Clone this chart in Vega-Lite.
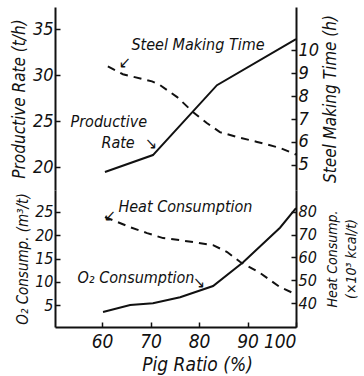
{
  "$schema": "https://vega.github.io/schema/vega-lite/v6.json",
  "width": 241,
  "height": 320,
  "autosize": {"type": "none"},
  "padding": {"left": 55, "top": 7, "right": 68, "bottom": 49},
  "background": "white",
  "config": {
    "view": {"stroke": null},
    "font": "DejaVu Sans Condensed, Liberation Sans",
    "axis": {
      "grid": false,
      "domainColor": "#111",
      "domainWidth": 2,
      "tickColor": "#111",
      "tickWidth": 1.5,
      "tickSize": -5,
      "labelPadding": 7,
      "titlePadding": 4,
      "labelFont": "DejaVu Sans Condensed, Liberation Sans",
      "titleFont": "DejaVu Sans Condensed, Liberation Sans",
      "labelFontStyle": "italic",
      "titleFontStyle": "italic",
      "titleFontWeight": "normal",
      "labelColor": "#111",
      "titleColor": "#111",
      "labelFontSize": 18,
      "titleFontSize": 17
    },
    "text": {"font": "DejaVu Sans Condensed, Liberation Sans", "fontStyle": "italic", "fontSize": 16, "color": "#111"}
  },
  "datasets": {
    "lines": [
      {"series": "prod", "pig": 60.6, "v": 19.46},
      {"series": "prod", "pig": 70.5, "v": 21.3},
      {"series": "prod", "pig": 83.7, "v": 28.9},
      {"series": "prod", "pig": 100, "v": 33.9},
      {"series": "steel", "pig": 61.2, "v": 9.3},
      {"series": "steel", "pig": 64.3, "v": 8.96},
      {"series": "steel", "pig": 70.3, "v": 8.65},
      {"series": "steel", "pig": 72.0, "v": 8.48},
      {"series": "steel", "pig": 75.5, "v": 7.96},
      {"series": "steel", "pig": 78.8, "v": 7.3},
      {"series": "steel", "pig": 81.6, "v": 6.83},
      {"series": "steel", "pig": 84.3, "v": 6.43},
      {"series": "steel", "pig": 87.8, "v": 6.22},
      {"series": "steel", "pig": 92.0, "v": 6.0},
      {"series": "steel", "pig": 96.7, "v": 5.74},
      {"series": "steel", "pig": 100, "v": 5.45},
      {"series": "o2", "pig": 60.2, "v": 3.5},
      {"series": "o2", "pig": 65.8, "v": 5.0},
      {"series": "o2", "pig": 70.5, "v": 5.4},
      {"series": "o2", "pig": 76.1, "v": 6.7},
      {"series": "o2", "pig": 82.9, "v": 9.1},
      {"series": "o2", "pig": 89.1, "v": 14.2},
      {"series": "o2", "pig": 96.7, "v": 21.6},
      {"series": "o2", "pig": 100, "v": 25.8},
      {"series": "heat", "pig": 60.6, "v": 77.7},
      {"series": "heat", "pig": 62.3, "v": 76.3},
      {"series": "heat", "pig": 65.8, "v": 73.3},
      {"series": "heat", "pig": 69.3, "v": 70.7},
      {"series": "heat", "pig": 72.6, "v": 68.5},
      {"series": "heat", "pig": 76.1, "v": 67.6},
      {"series": "heat", "pig": 82.9, "v": 65.4},
      {"series": "heat", "pig": 85.8, "v": 62.4},
      {"series": "heat", "pig": 88.5, "v": 58.0},
      {"series": "heat", "pig": 92.6, "v": 53.2},
      {"series": "heat", "pig": 96.7, "v": 47.0},
      {"series": "heat", "pig": 99.4, "v": 44.4}
    ],
    "notes": [
      {"panel": "top", "label": "Steel Making Time", "pig": 79.8, "v": 33.26},
      {"panel": "top", "label": "↙", "pig": 64.7, "v": 31.3},
      {"panel": "top", "label": "Productive", "pig": 61.4, "v": 24.9},
      {"panel": "top", "label": "Rate", "pig": 63.3, "v": 22.6},
      {"panel": "top", "label": "↘", "pig": 70.1, "v": 22.5},
      {"panel": "bottom", "label": "Heat Consumption", "pig": 77.2, "v": 26.1},
      {"panel": "bottom", "label": "↙", "pig": 61.6, "v": 24.2},
      {"panel": "bottom", "label": "O₂ Consumption", "pig": 67.0, "v": 10.8},
      {"panel": "bottom", "label": "↘", "pig": 80.0, "v": 9.7}
    ]
  },
  "encoding": {
    "x": {
      "field": "pig",
      "type": "quantitative",
      "scale": {"domain": [50.3, 100], "nice": false, "zero": false},
      "axis": {
        "orient": "bottom",
        "values": [60, 70, 80, 90, 100],
        "labelFontSize": 19,
        "labelPadding": 10,
        "title": "Pig  Ratio  (%)",
        "titleFontSize": 19,
        "titleX": 142,
        "titleY": 43,
        "titleBaseline": "alphabetic"
      }
    }
  },
  "layer": [
    {
      "data": {"name": "lines"},
      "transform": [{"filter": "datum.series == 'prod'"}],
      "mark": {"type": "line", "color": "#111", "strokeWidth": 2},
      "encoding": {
        "y": {
          "field": "v", "type": "quantitative",
          "scale": {"domain": [17.5, 37.4], "range": [183, 0], "nice": false, "zero": false},
          "axis": {"orient": "left", "values": [20, 25, 30, 35], "title": "Productive Rate (t/h)"}
        }
      }
    },
    {
      "data": {"name": "lines"},
      "transform": [{"filter": "datum.series == 'steel'"}],
      "mark": {"type": "line", "color": "#111", "strokeWidth": 2, "strokeDash": [8, 6]},
      "encoding": {
        "y": {
          "field": "v", "type": "quantitative",
          "scale": {"domain": [3.9, 11.9], "range": [183, 0], "nice": false, "zero": false},
          "axis": {"orient": "right", "values": [5, 6, 7, 8, 9, 10], "title": "Steel Making Time (h)", "titleAngle": 270, "titleBaseline": "top", "titlePadding": 4}
        }
      }
    },
    {
      "data": {"name": "lines"},
      "transform": [{"filter": "datum.series == 'o2'"}],
      "mark": {"type": "line", "color": "#111", "strokeWidth": 2},
      "encoding": {
        "y": {
          "field": "v", "type": "quantitative",
          "scale": {"domain": [0.3, 29.7], "range": [320, 183], "nice": false, "zero": false},
          "axis": {"orient": "left", "values": [5, 10, 15, 20, 25], "labelFontSize": 16, "title": "O₂ Consump. (m³/t)", "titleFontSize": 15}
        }
      }
    },
    {
      "data": {"name": "lines"},
      "transform": [{"filter": "datum.series == 'heat'"}],
      "mark": {"type": "line", "color": "#111", "strokeWidth": 2, "strokeDash": [8, 6]},
      "encoding": {
        "y": {
          "field": "v", "type": "quantitative",
          "scale": {"domain": [29.5, 89.6], "range": [320, 183], "nice": false, "zero": false},
          "axis": {"orient": "right", "values": [40, 50, 60, 70, 80], "labelFontSize": 16, "title": ["Heat Consump.", "(×10³ kcal/t)"], "titleFontSize": 14, "titleLineHeight": 19, "titleAngle": 270, "titleBaseline": "top", "titlePadding": -10}
        }
      }
    },
    {
      "data": {"name": "notes"},
      "transform": [{"filter": "datum.panel == 'top'"}],
      "mark": {"type": "text", "align": "center", "baseline": "middle"},
      "encoding": {
        "text": {"field": "label"},
        "y": {
          "field": "v", "type": "quantitative",
          "scale": {"domain": [17.5, 37.4], "range": [183, 0], "nice": false, "zero": false},
          "axis": null
        }
      }
    },
    {
      "data": {"name": "notes"},
      "transform": [{"filter": "datum.panel == 'bottom'"}],
      "mark": {"type": "text", "align": "center", "baseline": "middle"},
      "encoding": {
        "text": {"field": "label"},
        "y": {
          "field": "v", "type": "quantitative",
          "scale": {"domain": [0.3, 29.7], "range": [320, 183], "nice": false, "zero": false},
          "axis": null
        }
      }
    }
  ],
  "resolve": {"scale": {"y": "independent"}, "axis": {"y": "independent"}}
}
